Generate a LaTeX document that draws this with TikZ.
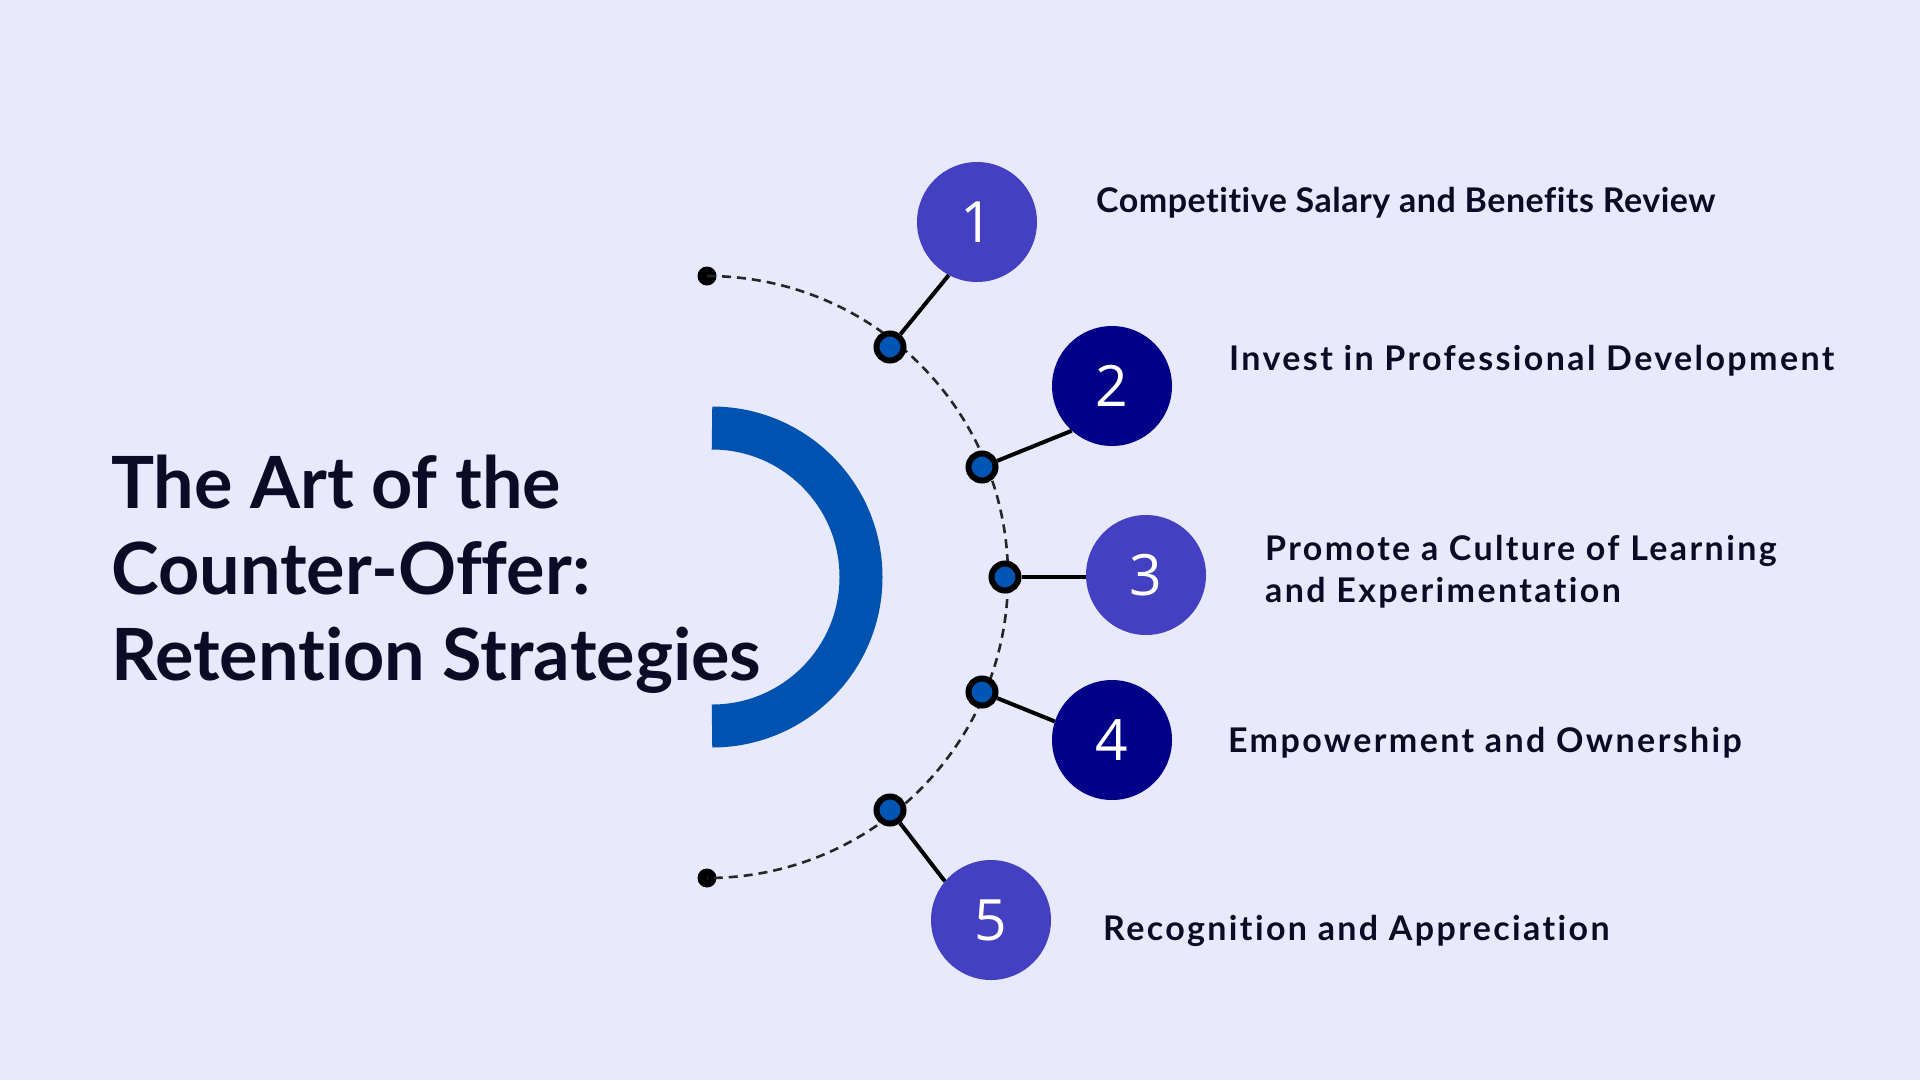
\documentclass[tikz,border=0pt]{standalone}
\usepackage{fontspec}
\setmainfont[Ligatures={NoCommon,NoContextual}]{Lato}
\newfontfamily\numfont{Open Sans}
\newfontfamily\itemfont[LetterSpace=7,Ligatures={NoCommon,NoContextual}]{Lato}
\newfontfamily\itemfontA[LetterSpace=1.5,Ligatures={NoCommon,NoContextual}]{Lato}
\definecolor{bgc}{HTML}{E8E9FC}
\definecolor{indigoc}{HTML}{4340C1}
\definecolor{navyc}{HTML}{020288}
\definecolor{arcblue}{HTML}{0052B0}
\definecolor{dotblue}{HTML}{0055B5}
\definecolor{inkc}{HTML}{0B0B26}
\tikzset{
  numcirc/.style={circle, minimum size=120pt, inner sep=0pt, text=white,
     font=\numfont\fontsize{57}{57}\selectfont},
  lightc/.style={numcirc, fill=indigoc},
  darkc/.style={numcirc, fill=navyc},
  arcdot/.style={circle, minimum size=27pt, inner sep=0pt, fill=dotblue, draw=black, line width=6pt},
  enddot/.style={circle, minimum size=19pt, inner sep=0pt, fill=black},
  link/.style={draw=black, line width=4pt},
  itemtext/.style={anchor=base west, text=inkc, inner sep=0pt,
     font=\itemfont\bfseries\fontsize{34}{42}\selectfont, align=left},
  titletext/.style={anchor=base west, text=inkc, inner sep=0pt,
     font=\bfseries\fontsize{72}{86}\selectfont}
}
\begin{document}
\begin{tikzpicture}[x=1pt,y=-1pt]
\fill[bgc] (0,0) rectangle (1920,1080);
\useasboundingbox (0,0) rectangle (1920,1080);
% big blue half ring
\draw[arcblue, line width=43pt] (712,577) ++(0,149) arc[start angle=90, end angle=-90, radius=149];
% dashed arc
\node[enddot] (e1) at (707,276) {};
\node[enddot] (e2) at (707,878) {};
\draw[black!85, line width=2.6pt, dash pattern=on 9pt off 6pt] (e1.center) arc[start angle=-90, end angle=90, radius=301];
% dots
\node[arcdot] (d1) at (890,347) {};
\node[arcdot] (d2) at (982,467) {};
\node[arcdot] (d3) at (1005,577) {};
\node[arcdot] (d4) at (982,692) {};
\node[arcdot] (d5) at (890,810) {};
% number circles
\node[lightc] (c1) at (977,222) {1};
\node[darkc]  (c2) at (1112,386) {2};
\node[lightc] (c3) at (1146,575) {3};
\node[darkc]  (c4) at (1112,740) {4};
\node[lightc] (c5) at (991,920) {5};
% links
\draw[link] (d1) -- (c1.242);
\draw[link] (d2) -- (c2.228);
\draw[link] (d3) -- (c3.west |- d3);
\draw[link] (d4) -- (c4.162);
\draw[link] (d5) -- (c5.140);
% title
\node[titletext] (t1) at (111,508) {The Art of the};
\node[titletext] (t2) at (111,594) {Counter-Offer:};
\node[titletext] (t3) at (111,680) {Retention Strategies};
% items
\node[itemtext, font=\itemfontA\bfseries\fontsize{34}{42}\selectfont] (i1) at (1096,212) {Competitive Salary and Benefits Review};
\node[itemtext] (i2) at (1229,370) {Invest in Professional Development};
\node[itemtext] (i3) at (1265,602) {Promote a Culture of Learning\\and Experimentation};
\node[itemtext] (i4) at (1228,752) {Empowerment and Ownership};
\node[itemtext] (i5) at (1103,940) {Recognition and Appreciation};
\end{tikzpicture}
\end{document}
